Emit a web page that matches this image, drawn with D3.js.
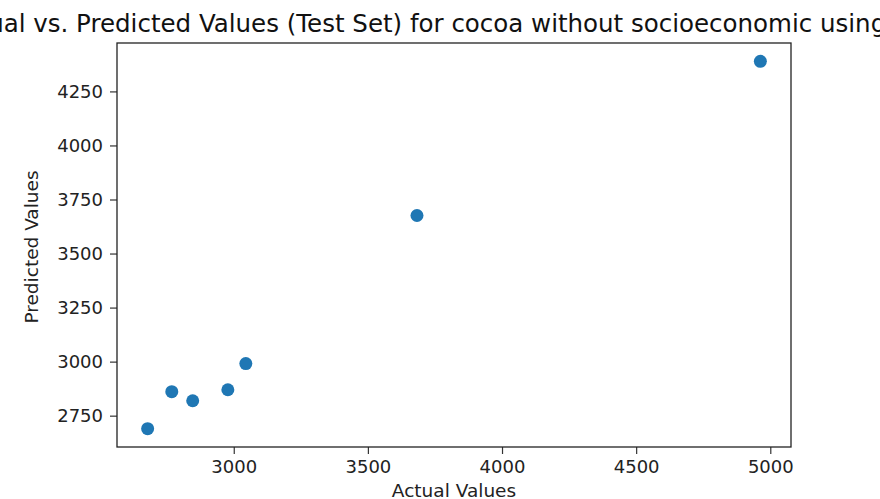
<!DOCTYPE html>
<html><head><meta charset="utf-8">
<script src="https://cdn.jsdelivr.net/npm/d3@7"></script>
<style>html,body{margin:0;padding:0;background:#fff;overflow:hidden}</style>
</head><body>
<svg id="c" width="880" height="499"></svg>
<script>
const actual    = [2679, 2769, 2847, 2978, 3045, 3683, 4963];
const predicted = [2690, 2861, 2819, 2870, 2991, 3676, 4389];
const xTicks = [3000, 3500, 4000, 4500, 5000];
const yTicks = [2750, 3000, 3250, 3500, 3750, 4000, 4250];
const titleText = "Actual vs. Predicted Values (Test Set) for cocoa without socioeconomic using LSTM";
const xLabel = "Actual Values";
const yLabel = "Predicted Values";

const svg = d3.select("#c");
const L = 117, R = 791, T = 43, B = 447;
const font = "DejaVu Sans, sans-serif";

const xmin = d3.min(actual), xmax = d3.max(actual), xm = (xmax - xmin) * 0.05;
const ymin = d3.min(predicted), ymax = d3.max(predicted), ym = (ymax - ymin) * 0.05;
const x = d3.scaleLinear().domain([xmin - xm, xmax + xm]).range([L, R]);
const y = d3.scaleLinear().domain([ymin - ym, ymax + ym]).range([B, T]);

const xa = svg.append("g").attr("transform", `translate(0,${B})`)
  .call(d3.axisBottom(x).tickValues(xTicks).tickFormat(d3.format("d")).tickSize(7).tickPadding(6));
const ya = svg.append("g").attr("transform", `translate(${L},0)`)
  .call(d3.axisLeft(y).tickValues(yTicks).tickFormat(d3.format("d")).tickSize(7).tickPadding(7));
[xa, ya].forEach(g => {
  g.select(".domain").remove();
  g.selectAll("line").attr("stroke", "#333").attr("stroke-width", 1.2);
  g.selectAll("text").attr("font-family", font).attr("font-size", 18).attr("fill", "#222");
});

svg.append("rect").attr("x", L).attr("y", T).attr("width", R - L).attr("height", B - T)
  .attr("fill", "none").attr("stroke", "#222").attr("stroke-width", 1.3);

svg.append("g").selectAll("circle").data(actual.map((a, i) => [a, predicted[i]]))
  .join("circle").attr("cx", d => x(d[0])).attr("cy", d => y(d[1])).attr("r", 6.5)
  .attr("fill", "#1f77b4");

svg.append("text").attr("x", (L + R) / 2).attr("y", 32).attr("text-anchor", "middle")
  .attr("font-family", font).attr("font-size", 24.5).attr("fill", "#111").text(titleText);
svg.append("text").attr("x", (L + R) / 2).attr("y", 497).attr("text-anchor", "middle")
  .attr("font-family", font).attr("font-size", 18.5).attr("fill", "#222").text(xLabel);
svg.append("text").attr("transform", `translate(38,${(T + B) / 2 + 2}) rotate(-90)`).attr("text-anchor", "middle")
  .attr("font-family", font).attr("font-size", 18.5).attr("fill", "#222").text(yLabel);
</script>
</body></html>
